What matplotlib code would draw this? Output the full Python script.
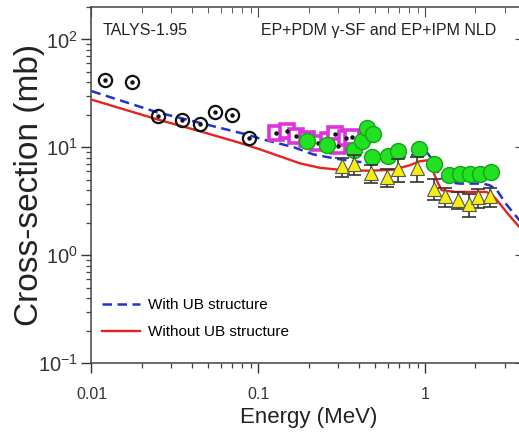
import matplotlib
matplotlib.use('Agg')
import matplotlib.pyplot as plt
from matplotlib.ticker import LogLocator, FixedLocator, FixedFormatter, NullFormatter

plt.rcParams['font.family'] = ['Liberation Sans', 'DejaVu Sans']
plt.rcParams['axes.unicode_minus'] = False

# TALYS curves
e_ub = [0.01, 0.02457, 0.0811, 0.112, 0.1616, 0.2129, 0.2939, 0.4053, 0.5104, 0.6416,
        0.8076, 0.9701, 1.035, 1.089, 1.156, 1.238, 1.345, 1.609, 2.219, 2.434, 2.669,
        3.063, 3.63, 4.0]
s_ub = [33.2, 21.2, 13.4, 11.6, 10.06, 8.61, 7.83, 7.31, 7.19, 7.69,
        8.34, 8.99, 8.80, 7.91, 6.39, 5.28, 4.77, 4.61, 4.61, 4.45, 4.08,
        2.97, 2.15, 1.8]

e_noub = [0.01, 0.02467, 0.04464, 0.07751, 0.1021, 0.1345, 0.1772, 0.2335, 0.3076, 0.4653,
          0.6389, 0.8076, 0.9268, 1.035, 1.094, 1.172, 1.256, 1.522, 2.325, 2.537, 2.793,
          3.076, 3.63, 4.0]
s_noub = [27.7, 18.2, 14.1, 11.0, 9.58, 8.26, 7.11, 6.46, 6.19, 6.06,
          6.19, 6.81, 7.42, 7.58, 6.53, 4.95, 4.00, 3.86, 3.86, 3.59, 3.03,
          2.50, 1.86, 1.6]

# experimental data
e_black = [0.01205, 0.01755, 0.02491, 0.03468, 0.04464, 0.05491, 0.06912, 0.0881]
s_black = [42.4, 40.2, 19.4, 18.1, 16.6, 21.2, 20.1, 12.3]

e_mag = [0.1282, 0.1482, 0.1689, 0.1952, 0.2281, 0.2608, 0.2872, 0.3006, 0.3342, 0.3630]
s_mag = [13.6, 14.1, 12.8, 11.9, 11.0, 11.6, 13.2, 10.2, 12.1, 12.4]

e_green = [0.1965, 0.2579, 0.3722, 0.4178, 0.4477, 0.4864, 0.4784, 0.600, 0.692, 0.918,
           1.132, 1.392, 1.62, 1.858, 2.134, 2.466]
s_green = [11.4, 10.5, 9.52, 11.4, 15.2, 13.2, 8.13, 8.26, 9.18, 9.58,
           6.96, 5.56, 5.62, 5.62, 5.71, 5.93]

e_tri = [0.317, 0.372, 0.473, 0.590, 0.687, 0.899, 1.127, 1.318, 1.577, 1.841, 2.085, 2.449]
s_tri = [6.67, 6.96, 5.78, 5.31, 6.25, 6.49, 4.15, 3.52, 3.26, 2.99, 3.44, 3.52]
err_tri = [1.36, 1.45, 1.11, 1.02, 1.51, 1.70, 0.92, 0.72, 0.59, 0.71, 0.70, 0.72]

xticks = [0.01, 0.1, 1]
xticklabels = ['0.01', '0.1', '1']

fig = plt.figure(figsize=(5.19, 4.38), dpi=100)
ax = fig.add_axes([0.1763, 0.1712, 0.8364, 0.8128])
ax.set_xscale('log')
ax.set_yscale('log')
ax.set_xlim(0.01, 4)
ax.set_ylim(0.1, 200)

ax.plot(e_black, s_black, 'o', ms=9.5, mfc='none', mec='#111111', mew=1.6, zorder=4)
ax.plot(e_black, s_black, 'o', ms=2.2, color='#111111', zorder=4)

ax.plot(e_mag, s_mag, 's', ms=9.5, mfc='white', mec='#dd33dd', mew=2.6, zorder=4)
ax.plot(e_mag, s_mag, 'o', ms=2.2, color='#111111', zorder=4)

ax.plot(e_green, s_green, 'o', ms=11.5, mfc='#22e022', mec='#17a317', mew=1.0, zorder=5)

ax.errorbar(e_tri, s_tri, yerr=err_tri, fmt='none', ecolor='#333333', elinewidth=1.2,
            capsize=5, capthick=1.2, zorder=6)
ax.plot(e_tri, s_tri, '^', ms=9.5, mfc='#f7ee10', mec='#555555', mew=0.8, zorder=7)

ax.plot(e_ub, s_ub, '--', color='#2233cc', lw=1.8, dashes=(3.8, 2.2), label='With UB structure', zorder=3)
ax.plot(e_noub, s_noub, '-', color='#e8221c', lw=1.7, label='Without UB structure', zorder=3)

# axes styling
for sp in ax.spines.values():
    sp.set_color('#444444')
    sp.set_linewidth(1.1)

ax.xaxis.set_major_locator(FixedLocator(xticks))
ax.xaxis.set_major_formatter(FixedFormatter(xticklabels))
ax.xaxis.set_minor_locator(LogLocator(base=10, subs=range(2, 10), numticks=20))
ax.xaxis.set_minor_formatter(NullFormatter())
ax.yaxis.set_major_locator(LogLocator(base=10, numticks=10))
ax.yaxis.set_minor_locator(LogLocator(base=10, subs=range(2, 10), numticks=20))
ax.yaxis.set_minor_formatter(NullFormatter())

ax.tick_params(which='major', direction='out', length=7, width=1.0, color='#444444')
ax.tick_params(which='minor', direction='out', length=3.5, width=0.9, color='#444444')
ax.tick_params(axis='x', labelsize=11.5, pad=10, colors='#333333')
ax.tick_params(axis='y', labelsize=14.5, pad=3, colors='#333333')

top = ax.secondary_xaxis('top')
top.tick_params(which='major', direction='in', length=7, color='#444444')
top.tick_params(which='minor', direction='in', length=4, color='#444444')
top.set_xticklabels([])
top.xaxis.set_minor_formatter(NullFormatter())
top.spines['top'].set_visible(False)
right = ax.secondary_yaxis('right')
right.tick_params(which='major', direction='in', length=8, color='#444444')
right.tick_params(which='minor', direction='in', length=4, color='#444444')
right.set_yticklabels([])
right.yaxis.set_minor_formatter(NullFormatter())
right.spines['right'].set_visible(False)

ax.set_xlabel('Energy (MeV)', fontsize=16, color='#222222', labelpad=4)
ax.set_ylabel('Cross-section (mb)', fontsize=24, color='#222222')
ax.yaxis.set_label_coords(-0.107, 0.5)

ax.text(0.026, 0.933, 'TALYS-1.95', transform=ax.transAxes, fontsize=11.5,
        ha='left', va='center', color='#222222')
ax.text(0.933, 0.933, 'EP+PDM γ-SF and EP+IPM NLD', transform=ax.transAxes, fontsize=11.5,
        ha='right', va='center', color='#222222')

ax.legend(loc='lower left', bbox_to_anchor=(0.01, 0.05), borderaxespad=0, frameon=False,
          fontsize=11, handlelength=2.5, handletextpad=0.5, labelspacing=0.85)

fig.savefig('out.png', dpi=100)
